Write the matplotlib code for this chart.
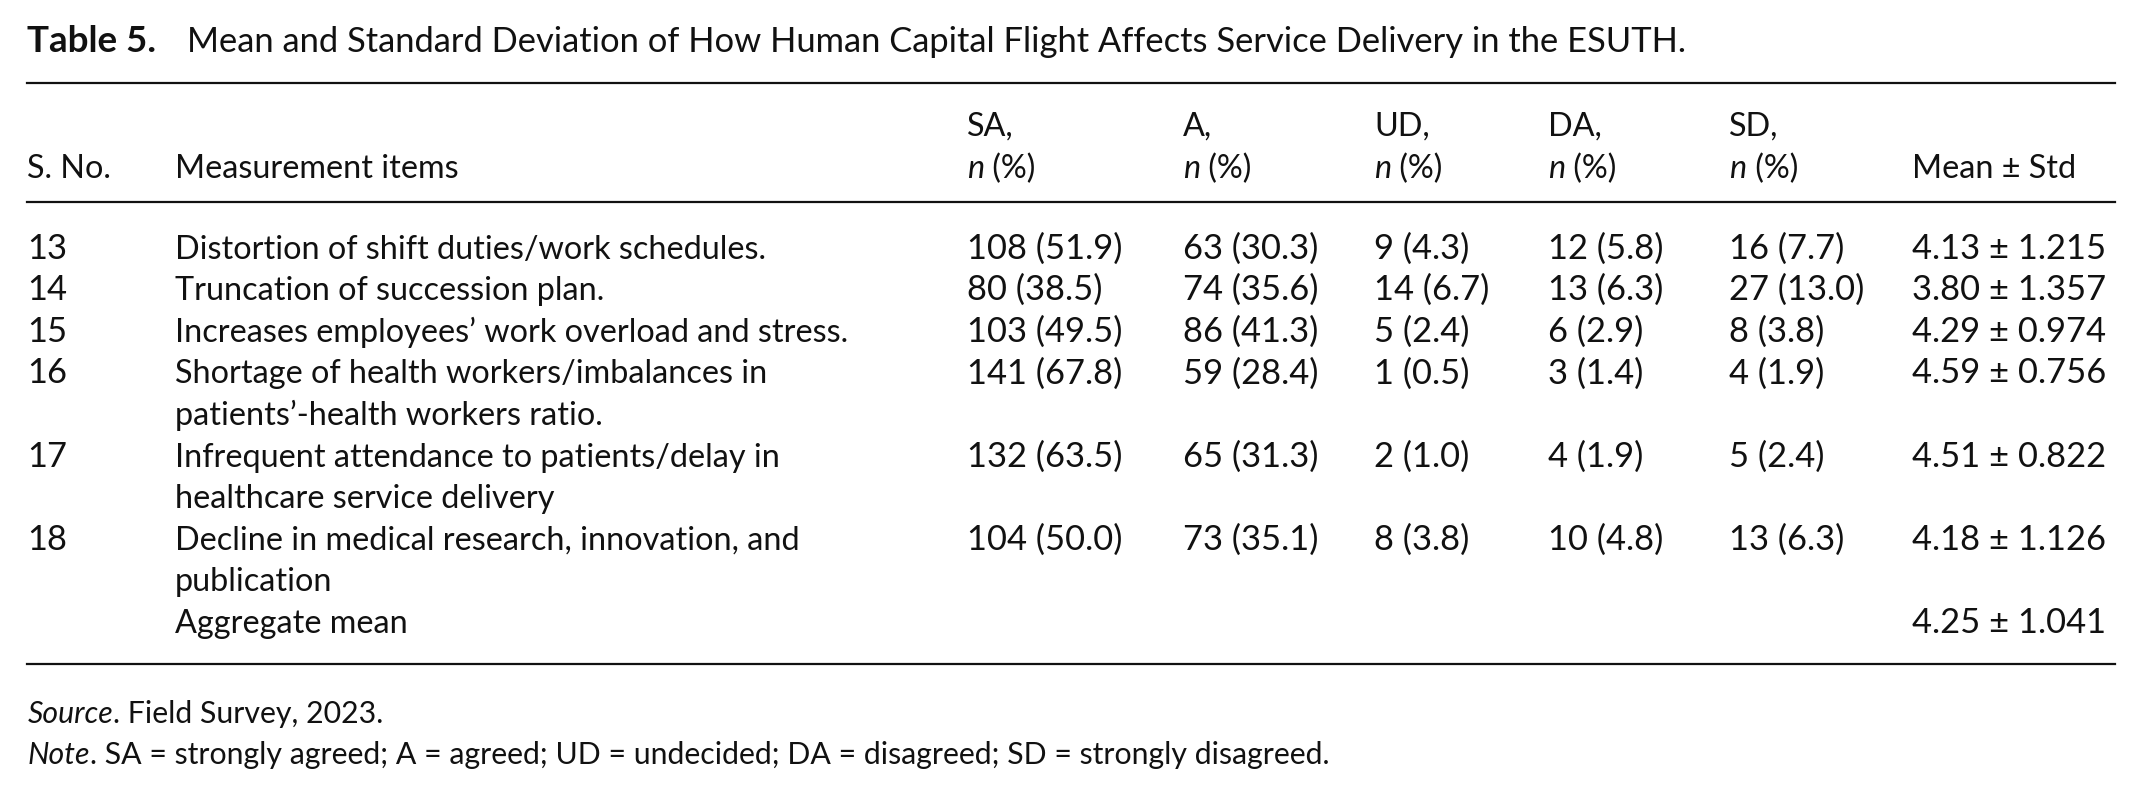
import matplotlib
matplotlib.use("Agg")
import matplotlib.pyplot as plt
from matplotlib.lines import Line2D

# ---------------- data ----------------
serial = ["13", "14", "15", "16", "17", "18"]
items = [
    ["Distortion of shift duties/work schedules."],
    ["Truncation of succession plan."],
    ["Increases employees\u2019 work overload and stress."],
    ["Shortage of health workers/imbalances in", "patients\u2019-health workers ratio."],
    ["Infrequent attendance to patients/delay in", "healthcare service delivery"],
    ["Decline in medical research, innovation, and", "publication"],
]
sa_n = [108, 80, 103, 141, 132, 104]
sa_p = [51.9, 38.5, 49.5, 67.8, 63.5, 50.0]
a_n = [63, 74, 86, 59, 65, 73]
a_p = [30.3, 35.6, 41.3, 28.4, 31.3, 35.1]
ud_n = [9, 14, 5, 1, 2, 8]
ud_p = [4.3, 6.7, 2.4, 0.5, 1.0, 3.8]
da_n = [12, 13, 6, 3, 4, 10]
da_p = [5.8, 6.3, 2.9, 1.4, 1.9, 4.8]
sd_n = [16, 27, 8, 4, 5, 13]
sd_p = [7.7, 13.0, 3.8, 1.9, 2.4, 6.3]
means = [4.13, 3.80, 4.29, 4.59, 4.51, 4.18]
stds = [1.215, 1.357, 0.974, 0.756, 0.822, 1.126]
agg_mean, agg_std = 4.25, 1.041
resp_cols = ["SA,", "A,", "UD,", "DA,", "SD,"]
title_bold = "Table 5."
title_rest = "Mean and Standard Deviation of How Human Capital Flight Affects Service Delivery in the ESUTH."
source_txt = ("Source", ". Field Survey, 2023.")
note_txt = ("Note", ". SA = strongly agreed; A = agreed; UD = undecided; "
            "DA = disagreed; SD = strongly disagreed.")

# ---------------- layout ----------------
W, H = 2142, 798
DW, DH = 1568.0, 584.0  # reference grid units
FONT = "Lato"
FS = 23.3       # item text
FS_NUM = 24.8   # numeric cells
FS_TITLE = 24.8
FS_NOTE = 21.8

fig = plt.figure(figsize=(W / 100, H / 100), dpi=100)
fig.patch.set_facecolor("white")
renderer = fig.canvas.get_renderer()


def fx(x):
    return x / DW


def fy(y):
    return 1 - y / DH


def txt(x, y, s, fs=FS, **kw):
    kw.setdefault("family", FONT)
    kw.setdefault("color", "#111111")
    return fig.text(fx(x), fy(y), s, va="baseline", ha="left", fontsize=fs, **kw)


def runs(x, y, parts, fs=FS):
    """parts: list of (string, dict)"""
    cur = fx(x)
    for s, kw in parts:
        kw = dict(kw)
        kw.setdefault("family", FONT)
        kw.setdefault("color", "#111111")
        t = fig.text(cur, fy(y), s, va="baseline", ha="left", fontsize=fs, **kw)
        bb = t.get_window_extent(renderer)
        cur = cur + bb.width / W


def hline(y, lw=1.6):
    fig.add_artist(Line2D([fx(20), fx(1548)], [fy(y), fy(y)], color="#111111", lw=lw,
                          transform=fig.transFigure))


BASE = 8.4  # center -> baseline offset

# title
txt(20, 30 + BASE, title_bold, fs=26.5, weight="bold")
txt(137, 30 + BASE, title_rest, fs=FS_TITLE)

hline(61)

# header
col_x = [708, 866, 1006, 1133, 1266]
for cx, lab in zip(col_x, resp_cols):
    txt(cx, 91 + BASE, lab)
    runs(cx, 122 + BASE, [("n", {"style": "italic"}), (" (%)", {})])
txt(20, 122 + BASE, "S. No.")
txt(128, 122 + BASE, "Measurement items")
txt(1400, 122 + BASE, "Mean \u00b1 Std")

hline(148)

# body
y0 = 181.0
step = 30.4
line = 0
cols = [(sa_n, sa_p), (a_n, a_p), (ud_n, ud_p), (da_n, da_p), (sd_n, sd_p)]
for i in range(len(serial)):
    yy = y0 + line * step + BASE
    txt(20, yy, serial[i], fs=FS_NUM)
    for cx, (nn, pp) in zip(col_x, cols):
        txt(cx, yy, f"{nn[i]} ({pp[i]:.1f})", fs=FS_NUM)
    txt(1400, yy, f"{means[i]:.2f} \u00b1 {stds[i]:.3f}", fs=FS_NUM)
    for j, ln in enumerate(items[i]):
        txt(128, y0 + (line + j) * step + BASE, ln)
    line += len(items[i])

yy = y0 + line * step + BASE
txt(128, yy, "Aggregate mean")
txt(1400, yy, f"{agg_mean:.2f} \u00b1 {agg_std:.3f}", fs=FS_NUM)

hline(486)

runs(20, 521 + BASE, [(source_txt[0], {"style": "italic"}), (source_txt[1], {})], fs=FS_NOTE)
runs(20, 551 + BASE, [(note_txt[0], {"style": "italic"}), (note_txt[1], {})], fs=FS_NOTE)

fig.savefig("out.png", dpi=100, facecolor="white")
